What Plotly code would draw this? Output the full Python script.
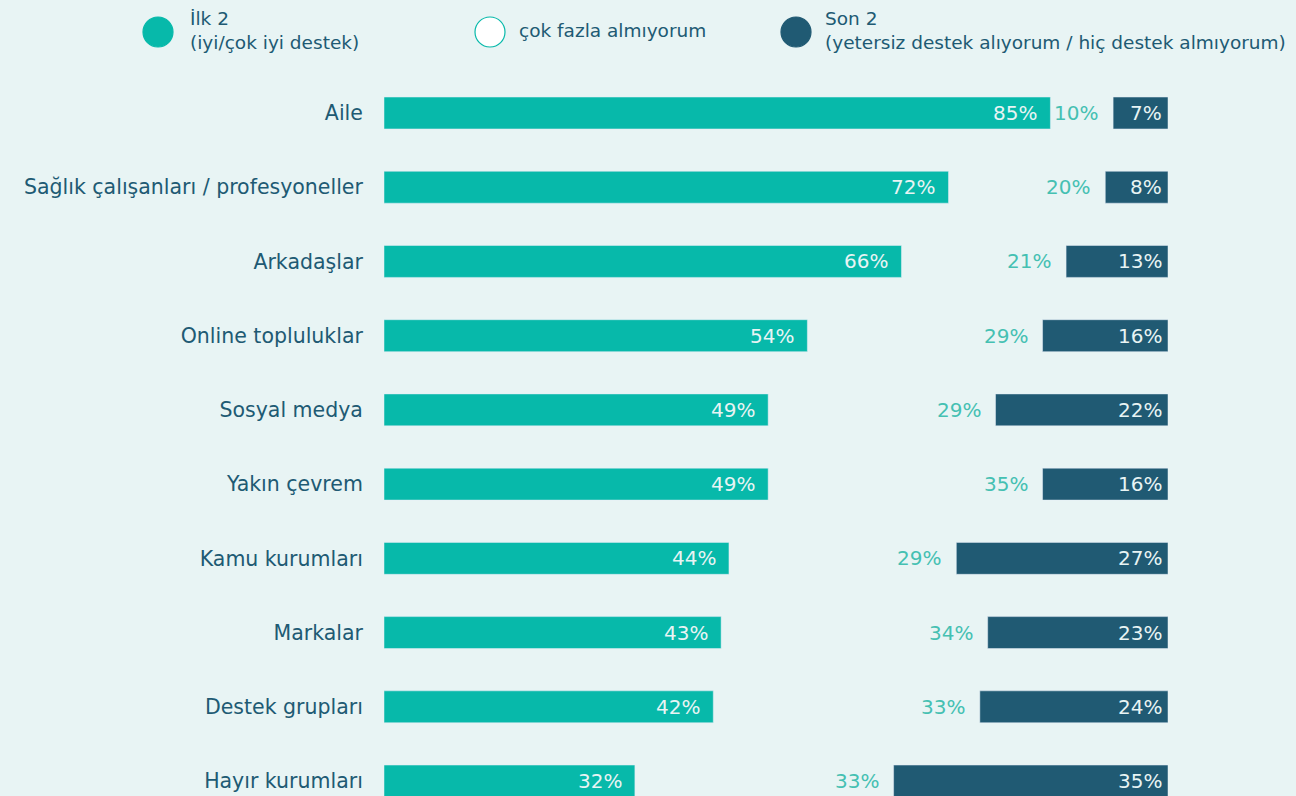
import plotly.graph_objects as go

# data
categories = ["Aile", "Sağlık çalışanları / profesyoneller", "Arkadaşlar", "Online topluluklar",
              "Sosyal medya", "Yakın çevrem", "Kamu kurumları", "Markalar",
              "Destek grupları", "Hayır kurumları"]
top2 = [85, 72, 66, 54, 49, 49, 44, 43, 42, 32]
middle = [10, 20, 21, 29, 29, 35, 29, 34, 33, 33]
bottom2 = [7, 8, 13, 16, 22, 16, 27, 23, 24, 35]

TEAL = "#07B9AA"
DARK = "#205A73"
MID_TXT = "#45C0B2"
BG = "#E8F4F4"
FONT = "DejaVu Sans"

fig = go.Figure()

fig.add_trace(go.Bar(
    y=categories, x=top2, orientation="h", marker_color=TEAL,
    width=0.43, showlegend=False, hoverinfo="skip"))

# dark segment sits at the right end of the axis
fig.add_trace(go.Bar(
    y=categories, x=bottom2, base=[100 - b for b in bottom2], orientation="h",
    marker_color=DARK, width=0.43, showlegend=False, hoverinfo="skip"))

annotations = []
for c, t, m, b in zip(categories, top2, middle, bottom2):
    annotations.append(dict(x=t, y=c, text=f"{t}%", xanchor="right", xshift=-11,
                            showarrow=False, font=dict(color=BG, size=20, family=FONT)))
    annotations.append(dict(x=100 - b, y=c, text=f"{m}%", xanchor="right", xshift=-13,
                            showarrow=False, font=dict(color=MID_TXT, size=20, family=FONT)))
    annotations.append(dict(x=100, y=c, text=f"{b}%", xanchor="right", xshift=-4,
                            showarrow=False, font=dict(color=BG, size=20, family=FONT)))

# legend drawn by hand
W, H = 1296, 796
legend_items = [
    (158, TEAL, TEAL, 188, "İlk 2<br>(iyi/çok iyi destek)"),
    (490, "white", TEAL, 517, "çok fazla almıyorum"),
    (796, DARK, DARK, 823, "Son 2<br>(yetersiz destek alıyorum / hiç destek almıyorum)"),
]
shapes = []
for cx, fill, line, tx, label in legend_items:
    shapes.append(dict(type="circle", xref="paper", yref="paper",
                       xsizemode="pixel", ysizemode="pixel",
                       xanchor=(cx - 384) / 784, yanchor=(796 - 32) / 720,
                       x0=-15, x1=15, y0=-15, y1=15,
                       fillcolor=fill, line=dict(color=line, width=1.2)))
    annotations.append(dict(xref="paper", yref="paper", x=(tx - 384) / 784,
                            y=(796 - 30) / 720, xanchor="left", yanchor="middle",
                            text=label, align="left", showarrow=False,
                            font=dict(color=DARK, size=18.5, family=FONT)))

fig.update_layout(
    width=W, height=H,
    paper_bgcolor=BG, plot_bgcolor=BG,
    margin=dict(l=384, r=128, t=76, b=0),
    barmode="overlay",
    xaxis=dict(range=[0, 100], visible=False),
    yaxis=dict(range=[9.202, -0.4985], showgrid=False, zeroline=False,
               ticks="outside", ticklen=16, tickcolor="rgba(0,0,0,0)",
               tickfont=dict(color=DARK, size=20.5, family=FONT)),
    annotations=annotations,
    shapes=shapes,
)

fig.write_html("out.html", config={"displayModeBar": False},
               post_script="document.body.style.margin='0';")
